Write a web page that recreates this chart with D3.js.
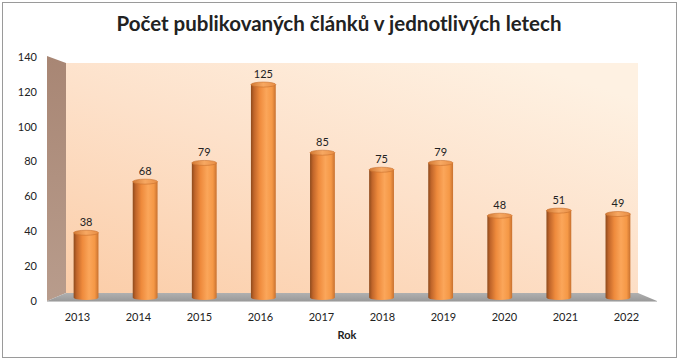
<!DOCTYPE html>
<html><head><meta charset="utf-8">
<script src="https://cdn.jsdelivr.net/npm/d3@7"></script>
<style>
html,body{margin:0;padding:0;background:#fff;}
svg{display:block;}
text{font-family:Lato, "Liberation Sans", sans-serif;fill:#222;}
</style></head>
<body>
<script>
const years = ["2013","2014","2015","2016","2017","2018","2019","2020","2021","2022"];
const counts = [38,68,79,125,85,75,79,48,51,49];
const yTicks = [0,20,40,60,80,100,120,140];
const titleText = "Počet publikovaných článků v jednotlivých letech";
const xAxisTitle = "Rok";

const W = 680, H = 362;
const svg = d3.select("body").append("svg").attr("width", W).attr("height", H);
const defs = svg.append("defs");

// layout (front plane, back plane)
const front = {x0:47, x1:657, yTop:57, yBot:301};
const back  = {x0:66, x1:638, yTop:63, yBot:293};
const mid   = {x0:56.5, x1:647.5, yBot:297.5, yTop:59};

// scales
const xFront = d3.scaleBand().domain(years).range([front.x0, front.x1]).padding(0);
const xMid = d3.scaleBand().domain(years).range([mid.x0, mid.x1]).padding(0);
const yFront = d3.scaleLinear().domain([0,140]).range([front.yBot, front.yTop]);
const yMid = d3.scaleLinear().domain([0,140]).range([mid.yBot, mid.yTop]);

// gradients
const wallG = defs.append("linearGradient").attr("id","wallG")
  .attr("x1","0").attr("y1","1").attr("x2","0.8").attr("y2","0");
wallG.append("stop").attr("offset","0%").attr("stop-color","#FBCDA8");
wallG.append("stop").attr("offset","55%").attr("stop-color","#FDE1CA");
wallG.append("stop").attr("offset","100%").attr("stop-color","#FEF1E2");

const sideG = defs.append("linearGradient").attr("id","sideG")
  .attr("x1","0").attr("y1","0").attr("x2","0").attr("y2","1");
sideG.append("stop").attr("offset","0%").attr("stop-color","#A88674");
sideG.append("stop").attr("offset","100%").attr("stop-color","#B89C8C");

const floorG = defs.append("linearGradient").attr("id","floorG")
  .attr("x1","0").attr("y1","0").attr("x2","0").attr("y2","1");
floorG.append("stop").attr("offset","0%").attr("stop-color","#B0B0B0");
floorG.append("stop").attr("offset","100%").attr("stop-color","#9A9A9A");

const cylG = defs.append("linearGradient").attr("id","cylG")
  .attr("x1","0").attr("y1","0").attr("x2","1").attr("y2","0");
[["0%","#8E4A1C"],["12%","#C0652A"],["35%","#EE8A3C"],["62%","#FBA65A"],["85%","#F59846"],["100%","#C8712F"]]
  .forEach(s=>cylG.append("stop").attr("offset",s[0]).attr("stop-color",s[1]));

const topG = defs.append("linearGradient").attr("id","topG")
  .attr("x1","0").attr("y1","0").attr("x2","1").attr("y2","0");
[["0%","#D27A36"],["50%","#F7A862"],["100%","#E88E45"]]
  .forEach(s=>topG.append("stop").attr("offset",s[0]).attr("stop-color",s[1]));

// border
svg.append("rect").attr("x",2.5).attr("y",2.5).attr("width",674).attr("height",355)
  .attr("fill","#fff").attr("stroke","#9a9a9a").attr("stroke-width",1);

// walls
svg.append("rect").attr("x",back.x0).attr("y",back.yTop)
  .attr("width",back.x1-back.x0).attr("height",back.yBot-back.yTop).attr("fill","url(#wallG)");
svg.append("polygon").attr("points",
  `${front.x0},${front.yTop-1} ${back.x0},${back.yTop} ${back.x0},${back.yBot} ${front.x0},${front.yBot}`)
  .attr("fill","url(#sideG)");
svg.append("polygon").attr("points",
  `${front.x0},${front.yBot} ${back.x0},${back.yBot} ${back.x1},${back.yBot} ${front.x1},${front.yBot}`)
  .attr("fill","url(#floorG)");
svg.append("line").attr("x1",front.x0).attr("x2",front.x1).attr("y1",front.yBot+0.5).attr("y2",front.yBot+0.5)
  .attr("stroke","#c8c8c8").attr("stroke-width",1);

// y axis labels
svg.append("g").selectAll("text").data(yTicks).join("text")
  .attr("x",37).attr("y",d=>yFront(d)).attr("dy","0.35em")
  .attr("text-anchor","end").attr("font-size",11).text(d=>d);

// bars (cylinders)
const ry = 2.5;
const bw = xMid.bandwidth()*0.42;
const bars = svg.append("g").selectAll("g").data(years.map((y,i)=>({y, v:counts[i]}))).join("g");
bars.append("path")
  .attr("d", d=>{
    const cx = xMid(d.y)+xMid.bandwidth()/2, x0 = cx-bw/2, x1 = cx+bw/2;
    const yt = yMid(d.v), yb = yMid(0);
    return `M${x0},${yt} L${x0},${yb} A${bw/2},${ry} 0 0 0 ${x1},${yb} L${x1},${yt} Z`;
  })
  .attr("fill","url(#cylG)");
bars.append("ellipse")
  .attr("cx", d=>xMid(d.y)+xMid.bandwidth()/2).attr("cy", d=>yMid(d.v))
  .attr("rx", bw/2).attr("ry", ry).attr("fill","url(#topG)")
  .attr("stroke","#C86E2C").attr("stroke-width",0.6);
bars.append("text")
  .attr("x", d=>xMid(d.y)+xMid.bandwidth()/2).attr("y", d=>yMid(d.v)-7)
  .attr("text-anchor","middle").attr("font-size",11).text(d=>d.v);

// x axis labels
svg.append("g").selectAll("text").data(years).join("text")
  .attr("x", d=>xFront(d)+xFront.bandwidth()/2).attr("y",321)
  .attr("text-anchor","middle").attr("font-size",11).text(d=>d);

svg.append("text").attr("x",347).attr("y",339).attr("text-anchor","middle")
  .attr("font-size",11).attr("font-weight","bold").text(xAxisTitle);

svg.append("text").attr("x",339).attr("y",31).attr("text-anchor","middle")
  .attr("font-size",20.5).attr("font-weight","bold").attr("fill","#111").text(titleText);
</script>
</body></html>
